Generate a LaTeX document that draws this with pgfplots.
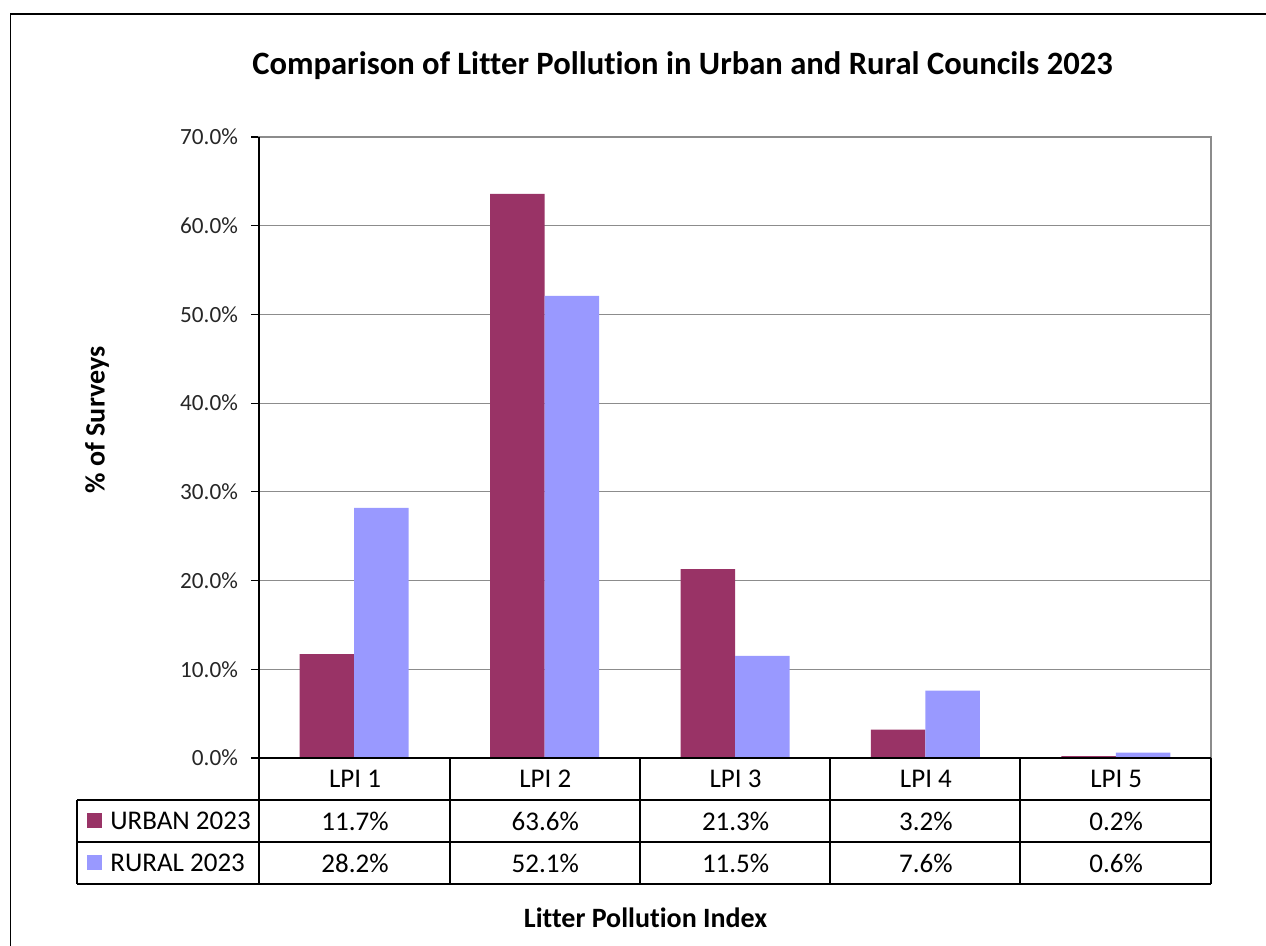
\documentclass[border=0pt]{standalone}
\usepackage{pgfplots}
\pgfplotsset{compat=1.18}
\usepackage{fontspec}
\setmainfont{Carlito}[Ligatures=NoCommon]
\definecolor{urban}{HTML}{993366}
\definecolor{rural}{HTML}{9999FF}
\definecolor{gridgray}{HTML}{8C8C8C}

\begin{document}
\begin{tikzpicture}[x=0.5pt,y=0.5pt]
\path[use as bounding box] (0,0) rectangle (1266,-946);
% outer chart border (left and top visible)
\draw[black, line width=0.6pt] (10.7,-946) -- (10.7,-14) -- (1266,-14);

\begin{axis}[
    at={(129.5pt,-379pt)}, anchor=south west,
    scale only axis, width=476pt, height=310.5pt,
    ybar=0pt, bar width=27.25pt,
    xmin=0.5, xmax=5.5, ymin=0, ymax=70,
    xtick=\empty,
    ytick={0,10,...,70},
    yticklabel={\pgfmathprintnumber[fixed,fixed zerofill,precision=1]{\tick}\%},
    /pgf/number format/assume math mode=true,
    yticklabel style={font=\fontsize{11.6}{13}\selectfont, text=black!85, xshift=-3pt},
    ytick pos=left, tick align=outside, major tick length=4pt,
    ytick style={black, line width=0.6pt},
    axis line style={gridgray, line width=0.7pt},
    ymajorgrids, major grid style={gridgray, line width=0.5pt},
    clip=false,
]
\addplot[fill=urban, draw=none] coordinates {(1,11.7) (2,63.6) (3,21.3) (4,3.2) (5,0.2)};
\addplot[fill=rural, draw=none] coordinates {(1,28.2) (2,52.1) (3,11.5) (4,7.6) (5,0.6)};
\draw[black, line width=0.7pt] (rel axis cs:0,0) -- (rel axis cs:0,1);
\end{axis}

% title and axis labels
\node[font=\fontsize{16.3}{19}\selectfont\bfseries] at (682.5,-66) {Comparison of Litter Pollution in Urban and Rural Councils 2023};
\node[font=\fontsize{14}{16}\selectfont\bfseries, rotate=90] at (97,-420) {\% of Surveys};
\node[font=\fontsize{14}{16}\selectfont\bfseries] at (645.5,-918) {Litter Pollution Index};

% data table
\begin{scope}[line width=0.75pt, black]
\draw (259,-758) -- (1211,-758);
\draw (77,-800) -- (1211,-800);
\draw (77,-842) -- (1211,-842);
\draw (77,-884) -- (1211,-884);
\draw (77,-800) -- (77,-884);
\foreach \xx in {259,450,640,830,1020,1211} \draw (\xx,-758) -- (\xx,-884);
\end{scope}
\begin{scope}[font=\fontsize{13.5}{15}\selectfont]
\foreach \c [count=\i from 0] in {LPI 1,LPI 2,LPI 3,LPI 4,LPI 5}
  \node at (355+190.3*\i,-779) {\c};
\foreach \v [count=\i from 0] in {11.7,63.6,21.3,3.2,0.2}
  \node at (355+190.3*\i,-821) {\v\%};
\foreach \v [count=\i from 0] in {28.2,52.1,11.5,7.6,0.6}
  \node at (355+190.3*\i,-863) {\v\%};
\fill[urban] (87,-813.5) rectangle (102,-828.5);
\fill[rural] (87,-855.5) rectangle (102,-870.5);
\node[anchor=west, inner sep=0pt] at (110,-821) {URBAN 2023};
\node[anchor=west, inner sep=0pt] at (110,-863) {RURAL 2023};
\end{scope}
\end{tikzpicture}
\end{document}
